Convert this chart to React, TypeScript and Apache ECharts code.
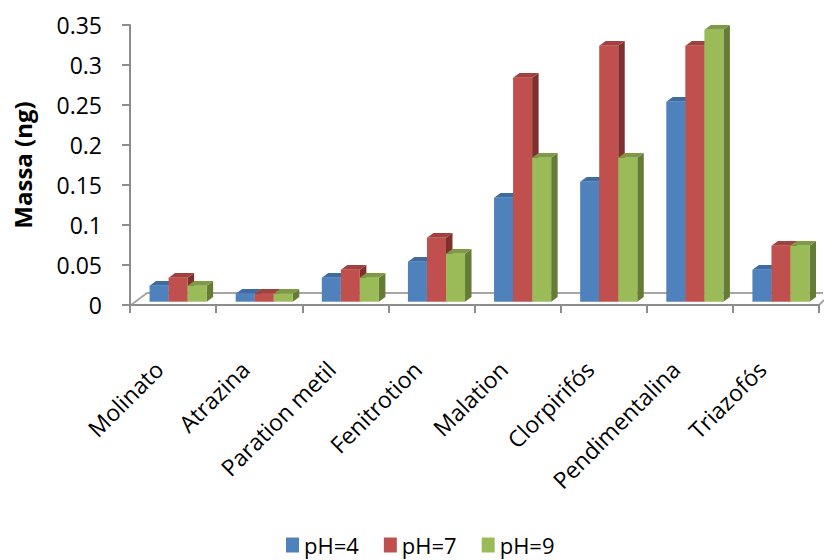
import React, { useEffect, useRef } from "react";
import * as echarts from "echarts";

// Pesticide mass recovered at three pH levels
const categories = [
  "Molinato",
  "Atrazina",
  "Paration metil",
  "Fenitrotion",
  "Malation",
  "Clorpirifós",
  "Pendimentalina",
  "Triazofós",
];
const seriesNames = ["pH=4", "pH=7", "pH=9"];
const ph4 = [0.02, 0.01, 0.03, 0.05, 0.13, 0.15, 0.25, 0.04];
const ph7 = [0.03, 0.01, 0.04, 0.08, 0.28, 0.32, 0.32, 0.07];
const ph9 = [0.02, 0.01, 0.03, 0.06, 0.18, 0.18, 0.34, 0.07];
const yTicks = { min: 0, max: 0.35, interval: 0.05 };

// front / top / side face colours for each series
const palette = [
  { front: "#4F81BD", top: "#3D6CA3", side: "#345887" },
  { front: "#C0504D", top: "#A2403D", side: "#7E302E" },
  { front: "#9BBB59", top: "#7E9A45", side: "#657C37" },
];

const FONT = "'Open Sans', sans-serif";
const GRID = { left: 130, right: 5, top: 25, bottom: 255 };
const DEPTH_X = 6.5;
const DEPTH_Y = -4.7;

function makeRenderItem(s: number) {
  const c = palette[s];
  return (params: any, api: any) => {
    const idx = api.value(0);
    const v = api.value(1);
    const base = api.coord([idx, 0]);
    const top = api.coord([idx, v]);
    const band = api.size([1, 0])[0];
    const bw = band * 0.221;
    const x0 = base[0] - band * 0.273 + s * bw;
    const x1 = x0 + bw;
    const yb = base[1] - 3.3;
    const yt = top[1] - 3.3;
    return {
      type: "group",
      children: [
        {
          type: "polygon",
          shape: {
            points: [
              [x1, yt],
              [x1 + DEPTH_X, yt + DEPTH_Y],
              [x1 + DEPTH_X, yb + DEPTH_Y],
              [x1, yb],
            ],
          },
          style: { fill: c.side },
        },
        {
          type: "polygon",
          shape: {
            points: [
              [x0, yt],
              [x1, yt],
              [x1 + DEPTH_X, yt + DEPTH_Y],
              [x0 + DEPTH_X, yt + DEPTH_Y],
            ],
          },
          style: { fill: c.top },
        },
        {
          type: "rect",
          shape: { x: x0, y: yt, width: bw, height: yb - yt },
          style: { fill: c.front },
        },
      ],
    };
  };
}

export default function App() {
  const ref = useRef<HTMLDivElement>(null);

  useEffect(() => {
    document.body.style.margin = "0";
    if (!ref.current) return;
    const chart = echarts.init(ref.current, undefined, { renderer: "svg" });
    const W = 824;
    const H = 560;
    const floorFrontY = H - GRID.bottom;
    const floorBackY = floorFrontY - 12;
    const axisColor = "#8C8C8C";

    const values = [ph4, ph7, ph9];

    chart.setOption({
      animation: false,
      backgroundColor: "#ffffff",
      textStyle: { fontFamily: FONT },
      grid: { ...GRID },
      legend: {
        left: 286,
        top: 534,
        padding: 0,
        itemWidth: 13,
        itemHeight: 15,
        itemGap: 25,
        icon: "rect",
        textStyle: { fontSize: 22, lineHeight: 22, color: "#000", fontFamily: FONT },
        data: seriesNames,
      },
      xAxis: {
        type: "category",
        data: categories,
        axisLine: { lineStyle: { color: axisColor, width: 2 } },
        axisTick: { show: true, length: 8, lineStyle: { color: axisColor, width: 2 } },
        axisLabel: {
          rotate: 45,
          margin: 46,
          padding: [0, 20, 0, 0],
          fontSize: 23,
          color: "#000",
          fontFamily: FONT,
          interval: 0,
        },
        splitLine: { show: false },
      },
      yAxis: {
        type: "value",
        min: yTicks.min,
        max: yTicks.max,
        interval: yTicks.interval,
        name: "Massa (ng)",
        nameLocation: "middle",
        nameGap: 96,
        nameRotate: 90,
        nameTextStyle: { fontSize: 24, fontWeight: "bold", color: "#000", fontFamily: FONT },
        axisLine: { show: true, lineStyle: { color: axisColor, width: 2 } },
        axisTick: { show: true, length: 8, lineStyle: { color: axisColor, width: 2 } },
        axisLabel: { fontSize: 23, color: "#000", margin: 28, fontFamily: FONT },
        splitLine: { show: false },
      },
      graphic: [
        {
          type: "polyline",
          silent: true,
          z: 0,
          shape: {
            points: [
              [GRID.left + 1, floorFrontY],
              [GRID.left + 17, floorBackY],
              [W - 1, floorBackY],
            ],
          },
          style: { stroke: "#A6A6A6", lineWidth: 2, fill: "none" },
        },
        {
          type: "line",
          silent: true,
          z: 0,
          shape: { x1: W - GRID.right, y1: floorFrontY, x2: W, y2: floorFrontY - 5 },
          style: { stroke: "#A6A6A6", lineWidth: 2 },
        },
      ],
      series: values.map((arr, s) => ({
        type: "custom",
        name: seriesNames[s],
        itemStyle: { color: palette[s].front },
        encode: { x: 0, y: 1 },
        data: arr.map((v, i) => [i, v]),
        renderItem: makeRenderItem(s),
        z: 2,
      })),
    });

    return () => chart.dispose();
  }, []);

  return <div ref={ref} style={{ width: 824, height: 560 }} />;
}
